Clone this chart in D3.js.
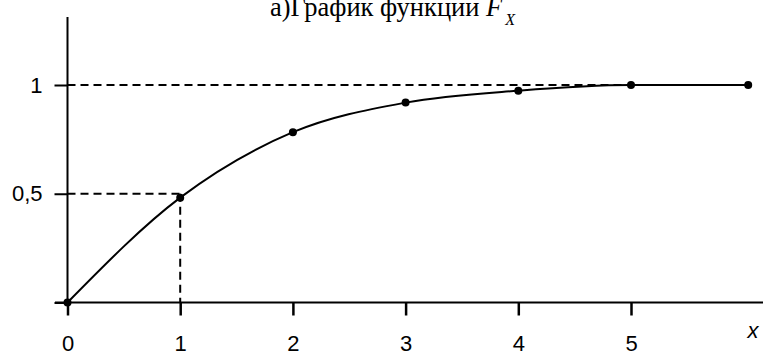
<!DOCTYPE html>
<html>
<head>
<meta charset="utf-8">
<script src="https://cdn.jsdelivr.net/npm/d3@7"></script>
<style>
  body { margin: 0; background: #fff; }
  .tick text { font-family: "Liberation Sans", Arial, sans-serif; font-size: 22px; fill: #000; }
</style>
</head>
<body>
<svg width="763" height="355"></svg>
<script>
// values
var xs = [0, 1, 2, 3, 4, 5, 6.04];
var Fx = [0, 0.482, 0.783, 0.919, 0.974, 1, 1];
var xTicks = [0, 1, 2, 3, 4, 5];
var yTicks = [0.5, 1];
var yTickLabels = ["0,5", "1"];

var svg = d3.select("svg");

var x = d3.scaleLinear().domain([0, 5]).range([67.5, 631]),
    y = d3.scaleLinear().domain([0, 1]).range([302.5, 85]);

var data = xs.map(function(d, i) { return {x: d, y: Fx[i]}; });

// title (top is cut by the edge, as in the source)
var title = svg.append("text")
    .attr("x", 270)
    .attr("y", 16)
    .style("font-family", "'Liberation Serif', 'Times New Roman', serif")
    .style("font-size", "26.5px");
title.append("tspan").text("а)График функции ");
title.append("tspan").style("font-style", "italic").text("F");
title.append("tspan").style("font-style", "italic").style("font-size", "16px")
    .attr("dy", 9).attr("dx", 3).text("X");

// axes
var g = svg.append("g");

g.append("line")
    .attr("x1", 55).attr("x2", 763)
    .attr("y1", y(0)).attr("y2", y(0))
    .attr("stroke", "#000").attr("stroke-width", 2);

g.append("line")
    .attr("x1", x(0)).attr("x2", x(0))
    .attr("y1", 17).attr("y2", y(0))
    .attr("stroke", "#000").attr("stroke-width", 2);

var xAxis = d3.axisBottom(x).tickValues(xTicks).tickSize(13).tickPadding(20)
    .tickFormat(d3.format("d"));
var gx = g.append("g")
    .attr("transform", "translate(0," + y(0) + ")")
    .call(xAxis);
gx.select(".domain").remove();
gx.selectAll(".tick line").attr("stroke-width", 2.5);

var yAxis = d3.axisLeft(y).tickValues([0].concat(yTicks)).tickSize(13).tickPadding(12)
    .tickFormat(function(d) { var i = yTicks.indexOf(d); return i < 0 ? "" : yTickLabels[i]; });
var gy = g.append("g")
    .attr("transform", "translate(" + x(0) + ",0)")
    .call(yAxis);
gy.select(".domain").remove();
gy.selectAll(".tick line").attr("stroke-width", 2);

svg.append("text")
    .attr("x", 753)
    .attr("y", 338)
    .attr("text-anchor", "middle")
    .style("font-family", "'Liberation Sans', Arial, sans-serif")
    .style("font-size", "22px")
    .style("font-style", "italic")
    .text("x");

// dashed guides
var dash = "8,5";
svg.append("line")
    .attr("x1", x(0)).attr("x2", x(5))
    .attr("y1", y(1)).attr("y2", y(1))
    .attr("stroke", "#000").attr("stroke-width", 2).attr("stroke-dasharray", dash);
svg.append("line")
    .attr("x1", x(0)).attr("x2", x(1))
    .attr("y1", y(0.5)).attr("y2", y(0.5))
    .attr("stroke", "#000").attr("stroke-width", 2).attr("stroke-dasharray", dash);
svg.append("line")
    .attr("x1", x(1)).attr("x2", x(1))
    .attr("y1", y(0.5)).attr("y2", y(0))
    .attr("stroke", "#000").attr("stroke-width", 2).attr("stroke-dasharray", dash);

// curve
var line = d3.line()
    .x(function(d) { return x(d.x); })
    .y(function(d) { return y(d.y); })
    .curve(d3.curveMonotoneX);

svg.append("path")
    .datum(data)
    .attr("fill", "none")
    .attr("stroke", "#000")
    .attr("stroke-width", 2)
    .attr("d", line);

svg.selectAll(".pt")
    .data(data)
    .enter().append("circle")
      .attr("class", "pt")
      .attr("cx", function(d) { return x(d.x); })
      .attr("cy", function(d) { return y(d.y); })
      .attr("r", 4)
      .attr("fill", "#000");
</script>
</body>
</html>
